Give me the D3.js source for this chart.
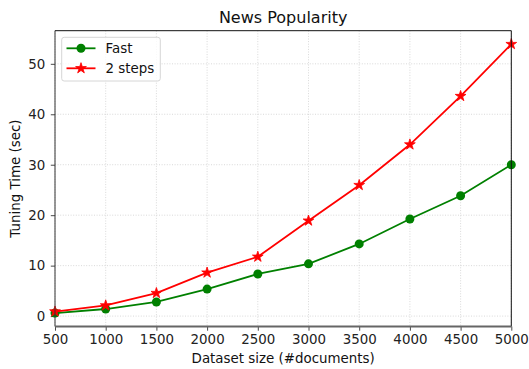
<!DOCTYPE html>
<html>
<head>
<meta charset="utf-8">
<script src="https://cdn.jsdelivr.net/npm/d3@7"></script>
<style>
  html, body { margin: 0; padding: 0; background: #fff; }
  svg { display: block; font-family: "DejaVu Sans", sans-serif; }
</style>
</head>
<body>
<svg id="chart" width="529" height="369"></svg>
<script>
// Dataset sizes (#documents)
const sizes = [500, 1000, 1500, 2000, 2500, 3000, 3500, 4000, 4500, 5000];
// Tuning time in seconds for each method
const fastTimes = [0.6, 1.4, 2.8, 5.35, 8.35, 10.35, 14.3, 19.25, 23.85, 30.0];
const twoStepTimes = [0.9, 2.1, 4.55, 8.6, 11.75, 18.9, 25.95, 34.0, 43.6, 53.9];
const xTicks = [500, 1000, 1500, 2000, 2500, 3000, 3500, 4000, 4500, 5000];
const yTicks = [0, 10, 20, 30, 40, 50];

const series = [
  { name: "Fast", values: fastTimes, color: "#008000", marker: "circle" },
  { name: "2 steps", values: twoStepTimes, color: "#ff0000", marker: "star" }
];

const svg = d3.select("#chart");
const m = { left: 55, right: 511.3, top: 30.7, bottom: 326.5 };
const tickFont = 13.4, titleFont = 16;

const all = fastTimes.concat(twoStepTimes);
const lo = d3.min(all), hi = d3.max(all), pad = (hi - lo) * 0.05;

const x = d3.scaleLinear().domain([500, 5000]).range([m.left, m.right]);
const y = d3.scaleLinear().domain([lo - pad, hi + pad]).range([m.bottom, m.top]);

// grid
const grid = svg.append("g");
grid.selectAll(".gx").data(xTicks).join("line")
  .attr("x1", d => x(d)).attr("x2", d => x(d))
  .attr("y1", m.top).attr("y2", m.bottom)
  .attr("stroke", "#cfcfcf").attr("stroke-width", 0.8).attr("stroke-dasharray", "1,1.6");
grid.selectAll(".gy").data(yTicks).join("line")
  .attr("x1", m.left).attr("x2", m.right)
  .attr("y1", d => y(d)).attr("y2", d => y(d))
  .attr("stroke", "#cfcfcf").attr("stroke-width", 0.8).attr("stroke-dasharray", "1,1.6");

// axes
const xAxis = svg.append("g").attr("transform", `translate(0,${m.bottom})`)
  .call(d3.axisBottom(x).tickValues(xTicks).tickFormat(d3.format("d")).tickSize(4.2).tickPadding(4));
const yAxis = svg.append("g").attr("transform", `translate(${m.left},0)`)
  .call(d3.axisLeft(y).tickValues(yTicks).tickFormat(d3.format("d")).tickSize(4.2).tickPadding(5.5));
[xAxis, yAxis].forEach(g => {
  g.select(".domain").remove();
  g.selectAll("text").attr("font-size", tickFont).attr("fill", "#222").attr("font-family", "DejaVu Sans");
  g.selectAll("line").attr("stroke", "#333").attr("stroke-width", 0.9);
});

// series lines and markers
const line = d3.line().x((d, i) => x(sizes[i])).y(d => y(d));
const starPath = d3.symbol().type(d3.symbolStar).size(36)();

series.forEach(s => {
  const g = svg.append("g");
  g.append("path").datum(s.values).attr("d", line)
    .attr("fill", "none").attr("stroke", s.color).attr("stroke-width", 1.8);
  if (s.marker === "circle") {
    g.selectAll("circle").data(s.values).join("circle")
      .attr("cx", (d, i) => x(sizes[i])).attr("cy", d => y(d)).attr("r", 4.5)
      .attr("fill", s.color);
  } else {
    g.selectAll("path.m").data(s.values).join("path").attr("class", "m")
      .attr("d", starPath)
      .attr("transform", (d, i) => `translate(${x(sizes[i])},${y(d)})`)
      .attr("fill", s.color).attr("stroke", s.color).attr("stroke-width", 0.8);
  }
});

// spines
svg.append("line").attr("x1", m.left).attr("x2", m.right).attr("y1", m.top).attr("y2", m.top)
  .attr("stroke", "#111").attr("stroke-width", 1);
svg.append("line").attr("x1", m.right).attr("x2", m.right).attr("y1", m.top).attr("y2", m.bottom)
  .attr("stroke", "#111").attr("stroke-width", 1);
svg.append("line").attr("x1", m.left).attr("x2", m.left).attr("y1", m.top).attr("y2", m.bottom)
  .attr("stroke", "#333").attr("stroke-width", 1);
svg.append("line").attr("x1", m.left).attr("x2", m.right).attr("y1", m.bottom).attr("y2", m.bottom)
  .attr("stroke", "#666").attr("stroke-width", 2);

// title and axis labels
svg.append("text").attr("x", (m.left + m.right) / 2).attr("y", 22.5)
  .attr("text-anchor", "middle").attr("font-size", titleFont).attr("fill", "#111").text("News Popularity");
svg.append("text").attr("x", (m.left + m.right) / 2).attr("y", 362.5)
  .attr("text-anchor", "middle").attr("font-size", tickFont).attr("fill", "#111").text("Dataset size (#documents)");
svg.append("text").attr("transform", `translate(20,${(m.top + m.bottom) / 2}) rotate(-90)`)
  .attr("text-anchor", "middle").attr("font-size", tickFont).attr("fill", "#111").text("Tuning Time (sec)");

// legend
const lg = svg.append("g");
lg.append("rect").attr("x", 61.7).attr("y", 37.3).attr("width", 98.6).attr("height", 43.7)
  .attr("rx", 2.5).attr("fill", "#fff").attr("fill-opacity", 0.8)
  .attr("stroke", "#d6d6d6").attr("stroke-width", 1);
series.forEach((s, i) => {
  const cy = 48.3 + i * 20;
  lg.append("line").attr("x1", 66.5).attr("x2", 95.5).attr("y1", cy).attr("y2", cy)
    .attr("stroke", s.color).attr("stroke-width", 1.8);
  if (s.marker === "circle") {
    lg.append("circle").attr("cx", 81).attr("cy", cy).attr("r", 4.5).attr("fill", s.color);
  } else {
    lg.append("path").attr("d", starPath).attr("transform", `translate(81,${cy})`)
      .attr("fill", s.color).attr("stroke", s.color).attr("stroke-width", 0.8);
  }
  lg.append("text").attr("x", 105.5).attr("y", cy + 4.8).attr("font-size", tickFont).attr("fill", "#111").text(s.name);
});
</script>
</body>
</html>
